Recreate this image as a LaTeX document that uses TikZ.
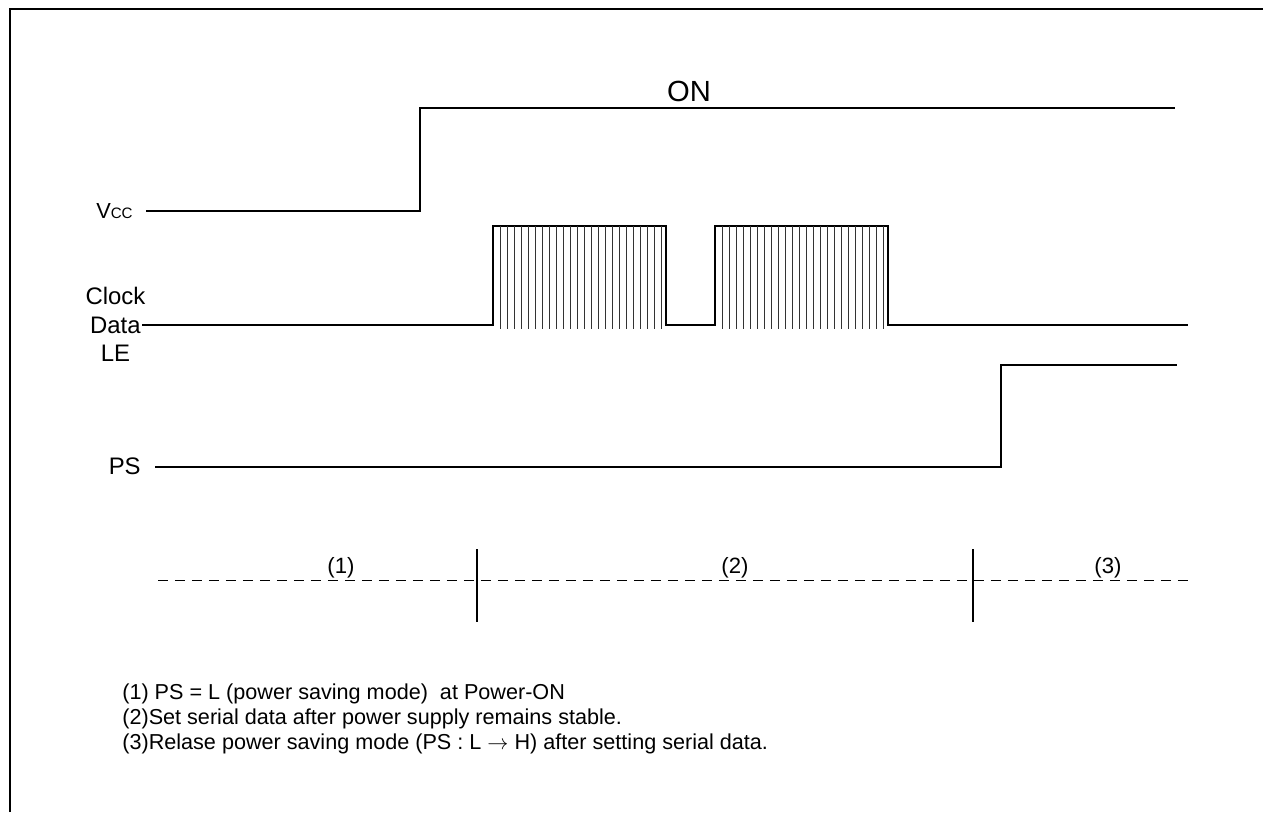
\documentclass[tikz,border=0pt]{standalone}
\usepackage{fontspec}
\setmainfont{Liberation Sans}
\usetikzlibrary{positioning}

\begin{document}
\begin{tikzpicture}[
    x=0.02cm, y=-0.02cm,
    wave/.style={line width=1.4pt, line join=miter},
    hatch/.style={line width=0.75pt, black!80},
    signame/.style={inner sep=0pt, font=\fontsize{13.6}{16}\selectfont},
    phase/.style={inner sep=1pt, font=\fontsize{12.6}{15}\selectfont},
    note/.style={anchor=west, inner sep=0pt, font=\fontsize{12.3}{15}\selectfont}
]

\useasboundingbox (0,0) rectangle (1263,812);

% --------------------------------------------------
% Frame
% --------------------------------------------------

\draw[line width=1.2pt] (10,812) -- (10,9) -- (1263,9);

% --------------------------------------------------
% Signal names
% --------------------------------------------------

\node[inner sep=0pt, anchor=east, font=\fontsize{12.4}{15}\selectfont] (vcc) at (133,211)
    {V{\fontsize{8.6}{10}\selectfont CC}};

\node[signame, anchor=east] (data) at (141,325) {Data};
\node[signame, above=6.5pt of data] (clock) {Clock};
\node[signame, below=6.5pt of data] (le) {LE};

\node[signame, anchor=east] (ps) at (141,466) {PS};

% --------------------------------------------------
% Vcc
% --------------------------------------------------

\coordinate (vccstart) at (146,211);
\draw[wave] (vccstart) -- (420,211) -- (420,108) -- (1175,108);

\node[inner sep=0pt, anchor=base, font=\fontsize{16.6}{19}\selectfont]
    (on) at (689,101) {ON};

% --------------------------------------------------
% Clock / Data / LE
% --------------------------------------------------

\draw[wave] (data.east) ++(1,0) -- (493,325)
    -- (493,226) -- (666,226) -- (666,325)
    -- (715,325) -- (715,226) -- (888,226) -- (888,325)
    -- (1188,325);

\foreach \s in {0,222}
{
    \foreach \i in {0,...,23}
    {
        \draw[hatch] ({\s+500.5+\i*7},226) -- ++(0,103);
    }
}

% --------------------------------------------------
% PS
% --------------------------------------------------

\coordinate (psstart) at (155,467);
\draw[wave] (psstart) -- (1001,467) -- (1001,365) -- (1177,365);

% --------------------------------------------------
% Phases
% --------------------------------------------------

\coordinate (dashl) at (158,580);
\coordinate (dashr) at (1188,580);
\draw[line width=0.5pt, dash pattern=on 0.2cm off 0.14cm] (dashl) -- (dashr);

\draw[line width=0.6pt] (477,549) -- (477,622);
\draw[line width=0.6pt] (973,549) -- (973,622);

\node[phase, anchor=base] (ph1) at (341,573) {(1)};
\node[phase, anchor=base] (ph2) at (735,573) {(2)};
\node[phase, anchor=base] (ph3) at (1108,573) {(3)};

% --------------------------------------------------
% Notes
% --------------------------------------------------

\node[note] (note1) at (122,694)
    {(1) PS = L (power saving mode) \ at Power-ON};
\node[note] (note2) at (122,719)
    {(2)Set serial data after power supply remains stable.};
\node[note] (note3) at (122,744)
    {(3)Relase power saving mode (PS : L $\rightarrow$ H) after setting serial data.};

\end{tikzpicture}
\end{document}
